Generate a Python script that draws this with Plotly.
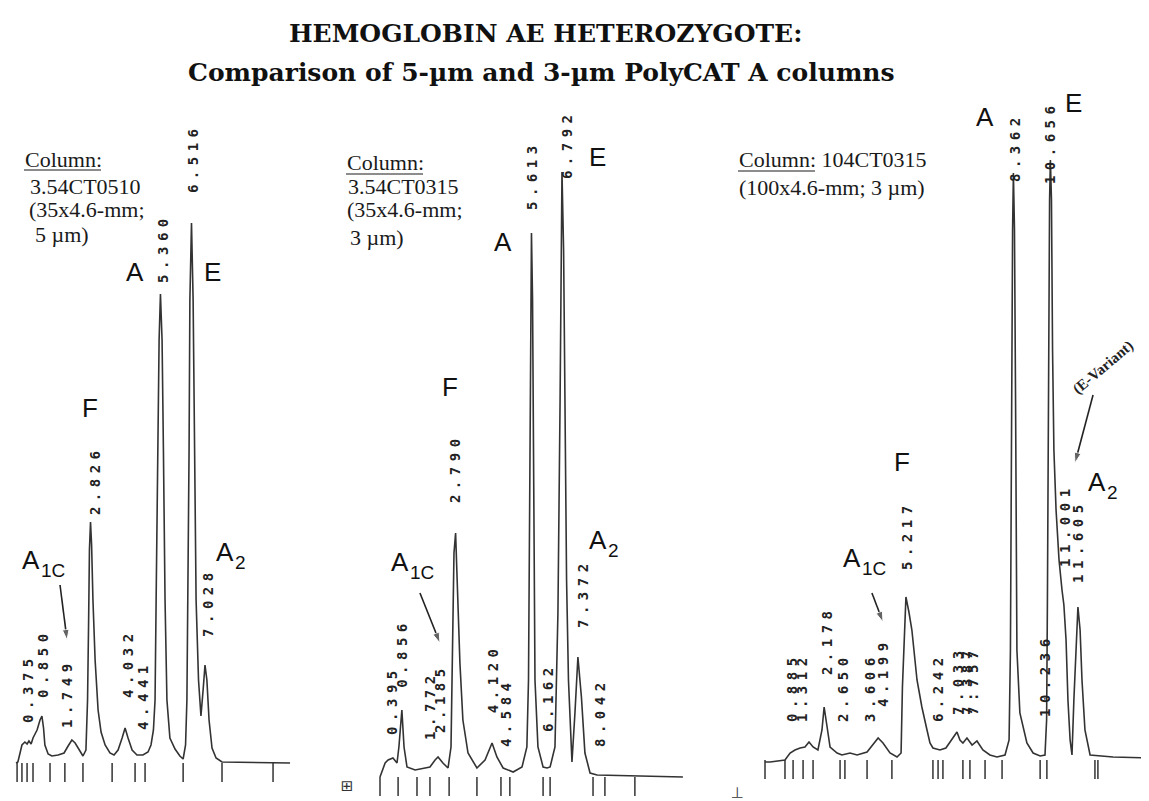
import plotly.graph_objects as go

# ---------------- data (time in min, signal in mAU) ----------------
# Panel 1: 3.54CT0510 (35x4.6 mm, 5 um)
p1_time = [0.00, 0.07, 0.15, 0.22, 0.33, 0.41, 0.48, 0.56, 0.63, 0.78, 0.89, 0.96, 1.02, 1.07, 1.19,
           1.33, 1.56, 1.78, 1.93, 2.07, 2.19, 2.33, 2.48, 2.59, 2.65, 2.69, 2.72, 2.76, 2.80, 2.85,
           2.93, 3.04, 3.15, 3.30, 3.48, 3.63, 3.78, 3.93, 4.04, 4.15, 4.30, 4.48, 4.70, 4.89, 5.00,
           5.09, 5.15, 5.19, 5.24, 5.30, 5.35, 5.41, 5.46, 5.52, 5.59, 5.70, 5.89, 6.07, 6.19, 6.28,
           6.33, 6.37, 6.41, 6.44, 6.50, 6.56, 6.61, 6.67, 6.76, 6.85, 6.93, 7.00, 7.07, 7.15, 7.26,
           7.41, 7.63, 10.15]
p1_signal = [0.0, 0.2, 2.0, 3.6, 4.2, 3.8, 4.4, 3.8, 5.0, 6.6, 8.6, 9.4, 7.0, 3.6, 1.8,
             1.4, 1.6, 2.0, 3.4, 4.6, 4.0, 2.6, 1.4, 2.6, 12.6, 28.6, 42.6, 48.2, 43.6, 32.6,
             20.6, 10.6, 6.2, 3.6, 2.0, 1.6, 2.6, 5.0, 7.0, 5.0, 2.6, 1.6, 1.6, 2.2, 3.6,
             6.6, 12.6, 32.6, 62.6, 84.6, 93.8, 84.6, 62.6, 32.6, 12.6, 5.0, 2.8, 1.4, 0.8, 3.6,
             12.6, 32.6, 62.6, 92.6, 108.0, 92.6, 62.6, 32.6, 16.6, 9.4, 14.6, 19.6, 16.6, 8.6, 3.0,
             1.0, 0.2, 0.0]
p1_events = [0.04, 0.22, 0.41, 0.63, 1.26, 1.81, 2.48, 3.56, 4.41, 4.78, 6.19, 7.63, 9.52]
p1_rt_text = ["0.375", "0.850", "1.749", "2.826", "4.032", "4.441", "5.360", "6.516", "7.028"]
p1_rt_time = [0.44, 1.00, 1.89, 2.93, 4.15, 4.70, 5.44, 6.56, 7.11]
p1_rt_sig = [15.0, 20.0, 14.0, 56.6, 20.0, 13.6, 103.0, 121.0, 32.2]

# Panel 2: 3.54CT0315 (35x4.6 mm, 3 um)
p2_time = [0.00, 0.19, 0.30, 0.48, 0.63, 0.70, 0.81, 0.89, 1.00, 1.30, 1.67, 1.85, 2.04, 2.15, 2.33,
           2.52, 2.63, 2.70, 2.74, 2.80, 2.85, 2.96, 3.07, 3.26, 3.59, 3.89, 4.15, 4.33, 4.56, 4.93,
           5.26, 5.44, 5.50, 5.54, 5.57, 5.61, 5.65, 5.69, 5.74, 5.85, 6.04, 6.19, 6.30, 6.48, 6.59,
           6.67, 6.70, 6.74, 6.80, 6.85, 6.91, 6.98, 7.11, 7.22, 7.33, 7.46, 7.59, 7.78, 8.04, 11.22]
p2_signal = [0.0, 2.8, 3.4, 3.8, 2.8, 6.0, 13.4, 6.0, 2.0, 1.4, 1.8, 2.0, 3.4, 4.0, 2.8,
             1.8, 6.0, 26.0, 44.8, 48.8, 39.4, 22.8, 11.4, 4.8, 1.8, 3.4, 6.8, 4.0, 1.8, 1.0,
             2.0, 6.0, 19.4, 55.4, 95.4, 108.8, 95.4, 55.4, 19.4, 6.0, 2.0, 1.8, 2.0, 6.0, 32.8,
             75.4, 105.4, 121.0, 105.4, 75.4, 39.4, 19.4, 3.0, 12.8, 24.0, 16.0, 4.8, 0.8, 0.4, 0.0]
p2_events = [0.00, 0.67, 1.37, 1.85, 2.56, 3.59, 4.48, 4.81, 6.04, 6.30, 7.89, 8.33, 9.44]
p2_rt_text = ["0.395", "0.856", "1.772", "2.185", "2.790", "4.120", "4.584", "5.613", "6.162",
              "6.792", "7.372", "8.042"]
p2_rt_time = [0.44, 0.81, 1.85, 2.22, 2.78, 4.19, 4.67, 5.63, 6.22, 6.93, 7.52, 8.15]
p2_rt_sig = [15.4, 24.8, 14.4, 15.8, 61.8, 19.8, 13.0, 120.4, 16.0, 126.6, 36.8, 13.0]

# Panel 3: 104CT0315 (100x4.6 mm, 3 um)
p3_time = [0.00, 0.19, 0.74, 0.93, 1.11, 1.30, 1.48, 1.63, 1.78, 1.96, 2.11, 2.19, 2.30, 2.41, 2.67,
           2.85, 3.15, 3.41, 3.78, 4.00, 4.19, 4.37, 4.63, 4.89, 5.04, 5.09, 5.15, 5.22, 5.33, 5.44,
           5.63, 5.81, 6.00, 6.11, 6.22, 6.48, 6.70, 6.96, 7.11, 7.22, 7.33, 7.48, 7.67, 7.85, 8.07,
           8.33, 8.59, 8.89, 9.04, 9.09, 9.13, 9.17, 9.20, 9.24, 9.28, 9.33, 9.44, 9.70, 9.93, 10.19,
           10.37, 10.43, 10.46, 10.50, 10.54, 10.57, 10.61, 10.65, 10.70, 10.78, 10.89, 11.00, 11.07,
           11.15, 11.22, 11.30, 11.37, 11.44, 11.52, 11.59, 11.67, 11.74, 11.85, 12.04, 12.89, 14.22]
p3_signal = [-0.4, -0.4, 0.0, 1.4, 2.0, 2.4, 2.6, 3.6, 2.6, 2.0, 6.0, 10.6, 6.6, 2.6, 1.4,
             1.0, 1.4, 1.0, 1.6, 3.0, 4.4, 3.4, 1.4, 0.6, 1.4, 14.6, 24.6, 32.6, 29.6, 26.0,
             16.0, 10.6, 6.0, 3.4, 2.4, 2.0, 2.4, 4.4, 5.6, 4.0, 3.4, 4.4, 3.0, 3.8, 2.0,
             1.0, 0.6, 1.0, 4.0, 22.0, 72.0, 106.0, 117.4, 106.0, 72.0, 22.0, 9.4, 3.4, 1.4, 0.8,
             1.0, 8.0, 32.0, 82.0, 112.0, 120.0, 112.0, 82.0, 62.0, 50.0, 40.0, 34.0, 31.0,
             24.0, 12.0, 4.0, 1.0, 12.0, 24.0, 30.6, 26.0, 16.0, 6.0, 1.0, 0.6, 0.4]
p3_events = [0.00, 0.74, 1.04, 1.41, 1.78, 2.78, 2.96, 3.78, 4.70, 6.22, 6.41, 6.59, 7.33, 7.59,
             8.15, 8.78, 10.19, 10.44, 12.22, 12.33]
p3_rt_text = ["0.885", "1.312", "2.178", "2.650", "3.606", "4.199", "5.217", "6.242", "7.033",
              "7.387", "7.757", "8.362", "10.236", "10.656", "11.001", "11.605"]
p3_rt_time = [1.00, 1.37, 2.30, 2.89, 3.89, 4.37, 5.26, 6.41, 7.15, 7.48, 7.70, 9.26, 10.37,
              10.56, 11.11, 11.59]
p3_rt_sig = [14.6, 14.6, 24.0, 14.6, 14.6, 17.6, 45.0, 14.6, 16.0, 16.0, 16.0, 122.6, 17.0,
             123.6, 47.0, 43.8]

# peak identity labels: (letter, subscript, time, signal)
p1_peaks = [("A", "", 4.41, 98.2), ("E", "", 7.26, 98.2), ("F", "", 2.74, 71.0),
            ("A", "1C", 0.56, 40.6), ("A", "2", 7.74, 42.2)]
p2_peaks = [("A", "", 4.56, 107.0), ("E", "", 8.07, 124.0), ("F", "", 2.59, 78.0),
            ("A", "1C", 0.74, 43.0), ("A", "2", 8.07, 47.4)]
p3_peaks = [("A", "", 8.15, 128.6), ("E", "", 11.41, 131.4), ("F", "", 5.07, 59.6),
            ("A", "1C", 3.22, 40.4), ("A", "2", 12.30, 55.6)]
# pointer arrows: (tail_t, tail_s, head_t, head_s)
p1_arrows = [(1.63, 35.6, 1.89, 24.6)]
p2_arrows = [(1.48, 36.8, 2.22, 26.8)]
p3_arrows = [(3.96, 33.4, 4.37, 27.6), (12.15, 73.0, 11.48, 59.4)]

column_info = [
    ["Column:", "3.54CT0510", "(35x4.6-mm;", "5 \u00b5m)"],
    ["Column:", "3.54CT0315", "(35x4.6-mm;", "3 \u00b5m)"],
    ["Column: 104CT0315", "(100x4.6-mm; 3 \u00b5m)"],
]
title_lines = ["HEMOGLOBIN AE HETEROZYGOTE:",
               "Comparison of 5-\u00b5m and 3-\u00b5m PolyCAT A columns"]
# small recorder marks printed at the start of the 2nd and 3rd traces
recorder_marks = [("\u229e", 347, 786), ("\u22a3", 737, 792)]

# ---------------- layout geometry ----------------
# The page body adds an 8 px margin, so the figure is sized to fill the rest of the window.
WIN_W, WIN_H, BODY = 1149, 801, 8
W, H = WIN_W - BODY, WIN_H - BODY


def px_x(px):
    return (px - BODY) / W


def px_y(py):
    return 1 - (py - BODY) / H


LINE = "#333333"
TICK_DEPTH = 3.8

panels = [
    dict(t=p1_time, s=p1_signal, ev=p1_events, rt=(p1_rt_text, p1_rt_time, p1_rt_sig),
         peaks=p1_peaks, arrows=p1_arrows, xdom=[px_x(8), px_x(330)], xr=[-0.2963, 11.6296],
         yr=[-7.6, 151.0]),
    dict(t=p2_time, s=p2_signal, ev=p2_events, rt=(p2_rt_text, p2_rt_time, p2_rt_sig),
         peaks=p2_peaks, arrows=p2_arrows, xdom=[px_x(330), px_x(720)], xr=[-1.8519, 12.5926],
         yr=[-4.8, 153.8]),
    dict(t=p3_time, s=p3_signal, ev=p3_events, rt=(p3_rt_text, p3_rt_time, p3_rt_sig),
         peaks=p3_peaks, arrows=p3_arrows, xdom=[px_x(720), 1.0], xr=[-1.6667, 14.2222],
         yr=[-8.2, 150.4]),
]

fig = go.Figure()
annotations = []
shapes = []
layout_axes = {}
for i, p in enumerate(panels, start=1):
    xa = "x" if i == 1 else f"x{i}"
    ya = "y" if i == 1 else f"y{i}"
    fig.add_trace(go.Scatter(x=p["t"], y=p["s"], mode="lines", xaxis=xa, yaxis=ya,
                             line=dict(color=LINE, width=1.6), hoverinfo="skip"))
    tx, ty = [], []
    for e in p["ev"]:
        tx += [e, e, None]
        ty += [0, -TICK_DEPTH, None]
    fig.add_trace(go.Scatter(x=tx, y=ty, mode="lines", xaxis=xa, yaxis=ya,
                             line=dict(color=LINE, width=1.5), hoverinfo="skip"))
    for (t0, s0, t1, s1) in p["arrows"]:
        fig.add_trace(go.Scatter(x=[t0, t1], y=[s0, s1], mode="lines+markers", xaxis=xa, yaxis=ya,
                                 line=dict(color="#222", width=1.6),
                                 marker=dict(symbol="arrow", size=[0, 11], angleref="previous",
                                             color="#222"),
                                 hoverinfo="skip"))
    layout_axes["xaxis" if i == 1 else f"xaxis{i}"] = dict(domain=p["xdom"], range=p["xr"], visible=False,
                                                           anchor=ya, fixedrange=True)
    layout_axes["yaxis" if i == 1 else f"yaxis{i}"] = dict(domain=[0, 1], range=p["yr"], visible=False,
                                                           anchor=xa, fixedrange=True)
    texts, times, sigs = p["rt"]
    for txt, t, s in zip(texts, times, sigs):
        annotations.append(dict(x=t, y=s, xref=xa, yref=ya, showarrow=False, textangle=-90,
                                text=f'<span style="letter-spacing:5.5px">{txt}</span>',
                                font=dict(family="DejaVu Sans Mono", size=14, color="#222",
                                          weight="bold"),
                                xanchor="center", yanchor="middle"))
    for letter, sub, t, s in p["peaks"]:
        annotations.append(dict(x=t, y=s, xref=xa, yref=ya, showarrow=False, text=letter,
                                font=dict(family="Liberation Sans", size=26, color="#111"),
                                xanchor="center", yanchor="middle"))
        if sub:
            annotations.append(dict(x=t, y=s, xref=xa, yref=ya, showarrow=False, text=sub,
                                    font=dict(family="Liberation Sans", size=19, color="#111"),
                                    xanchor="left", yanchor="middle", xshift=8, yshift=-10))

# E-variant note (panel 3)
annotations.append(dict(x=12.52, y=78.6, xref="x3", yref="y3", showarrow=False, textangle=-40,
                        text="(E-Variant)",
                        font=dict(family="Liberation Serif", size=15, color="#222", weight="bold"),
                        xanchor="center", yanchor="middle"))

# column descriptions (positions given in window pixels)
col_pos = [
    [(23, 159), (28, 186), (27, 209), (33, 234)],
    [(345, 163), (346, 186), (345, 209), (348, 238)],
    [(737, 160), (737, 187)],
]
underline = [(24, 101, 170), (346, 423, 174), (738, 815, 171)]
for lines, pos in zip(column_info, col_pos):
    for txt, (px, py) in zip(lines, pos):
        annotations.append(dict(x=px_x(px), y=px_y(py), xref="paper", yref="paper", showarrow=False,
                                text=txt, xanchor="left", yanchor="middle",
                                font=dict(family="Liberation Serif", size=22, color="#1a1a1a")))
for (xa0, xa1, py) in underline:
    shapes.append(dict(type="line", xref="paper", yref="paper", x0=px_x(xa0), x1=px_x(xa1),
                       y0=px_y(py), y1=px_y(py), line=dict(color="#1a1a1a", width=1.2)))

for txt, px, py in recorder_marks:
    annotations.append(dict(x=px_x(px), y=px_y(py), xref="paper", yref="paper", showarrow=False,
                            text=txt, xanchor="center", yanchor="middle", textangle=90,
                            font=dict(family="DejaVu Sans", size=15, color="#333")))

for txt, (px, py) in zip(title_lines, [(545, 33), (541, 72)]):
    annotations.append(dict(x=px_x(px), y=px_y(py), xref="paper", yref="paper", showarrow=False,
                            text=txt, xanchor="center", yanchor="middle",
                            font=dict(family="DejaVu Serif", size=25, color="#111", weight="bold")))

fig.update_layout(width=W, height=H, margin=dict(l=0, r=0, t=0, b=0),
                  paper_bgcolor="white", plot_bgcolor="white", showlegend=False,
                  annotations=annotations, shapes=shapes, **layout_axes)
fig.write_html("out.html")
